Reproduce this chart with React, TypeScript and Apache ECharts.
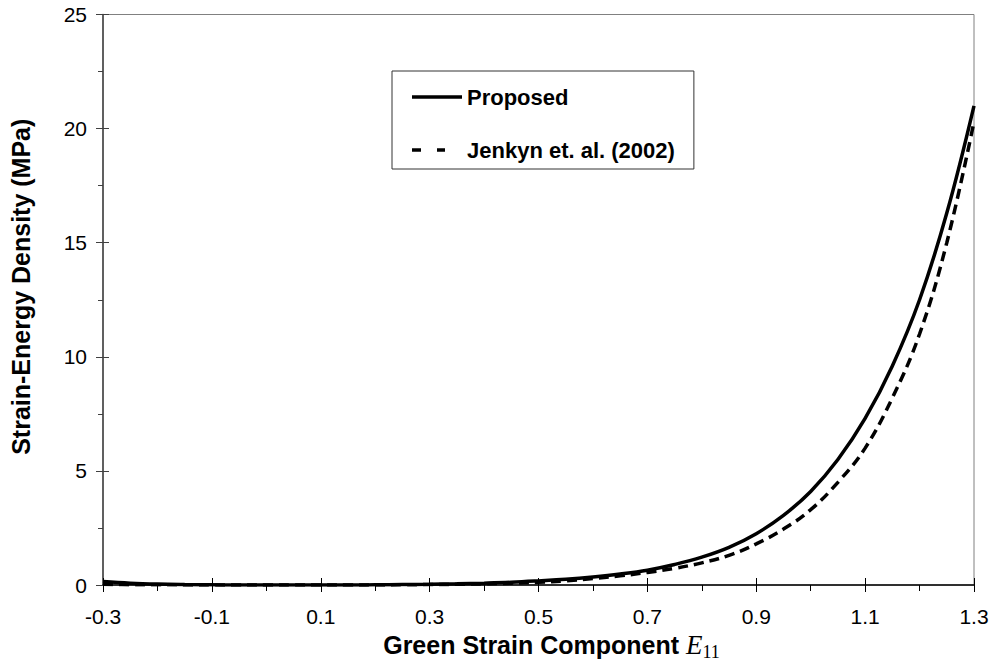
import React, { useEffect, useRef } from "react";
import * as echarts from "echarts";

const strainX = [-0.3, -0.25, -0.2, -0.15, -0.1, -0.05, 0, 0.05, 0.1, 0.15, 0.2, 0.25, 0.3, 0.35, 0.4, 0.45, 0.5, 0.55, 0.6, 0.65, 0.7, 0.75, 0.8, 0.85, 0.9, 0.95, 1.0, 1.05, 1.1, 1.15, 1.2, 1.25, 1.3];
const proposed = [0.15, 0.08, 0.04, 0.02, 0.01, 0.0, 0.0, 0.0, 0.0, 0.0, 0.01, 0.02, 0.03, 0.05, 0.08, 0.12, 0.18, 0.25, 0.35, 0.48, 0.65, 0.9, 1.22, 1.65, 2.25, 3.05, 4.1, 5.5, 7.3, 9.6, 12.5, 16.3, 21.0];
const jenkyn = [0.03, 0.015, 0.01, 0.005, 0.0, 0.0, 0.0, 0.0, 0.0, 0.0, 0.0, 0.01, 0.02, 0.03, 0.05, 0.08, 0.12, 0.18, 0.28, 0.4, 0.55, 0.73, 0.97, 1.3, 1.8, 2.45, 3.3, 4.5, 6.0, 8.2, 11.0, 15.0, 20.3];
const seriesNames = ["Proposed", "Jenkyn et. al. (2002)"];
const xTitle = "Green Strain Component ";
const yTitle = "Strain-Energy Density (MPa)";

const FONT = "'Liberation Sans', Arial, sans-serif";
const SERIF = "'Liberation Serif', 'Times New Roman', serif";

// legend icons (50 x 14 box, stroke band in the middle)
const ICON_SOLID = "path://M0,0L50,0Z M0,14L50,14Z M0,5.25H50V8.75H0Z";
const ICON_DASH = "path://M0,0L50,0Z M0,14L50,14Z M0,5.25H9V8.75H0Z M25,5.25H33V8.75H25Z";

export default function App() {
  const ref = useRef<HTMLDivElement>(null);
  useEffect(() => {
    if (!ref.current) return;
    const chart = echarts.init(ref.current, null, { renderer: "svg" });
    const fmt = (v: number) => String(Math.round(v * 10) / 10);
    chart.setOption({
      animation: false,
      backgroundColor: "#ffffff",
      grid: {
        left: 102,
        right: 21,
        top: 14.5,
        bottom: 83,
        show: true,
        borderColor: "#808080",
        borderWidth: 1,
        backgroundColor: "transparent",
      },
      legend: {
        left: 392,
        top: 71,
        orient: "vertical",
        backgroundColor: "#ffffff",
        borderColor: "#333333",
        borderWidth: 1,
        borderRadius: 0,
        padding: [15, 19, 8, 20],
        itemGap: 31,
        itemWidth: 50,
        itemHeight: 14,
        textStyle: { fontFamily: FONT, fontWeight: "bold", fontSize: 22, color: "#000", lineHeight: 22 },
        data: [
          { name: seriesNames[0], icon: ICON_SOLID, itemStyle: { color: "#000" } },
          { name: seriesNames[1], icon: ICON_DASH, itemStyle: { color: "#000" } },
        ],
      },
      xAxis: [
        {
          type: "value",
          position: "bottom",
          min: -0.3,
          max: 1.3,
          interval: 0.2,
          splitLine: { show: false },
          axisLine: { show: true, onZero: false, lineStyle: { color: "#000", width: 1.5 } },
          axisTick: { show: true, inside: false, length: 7, lineStyle: { color: "#000", width: 1 } },
          minorTick: { show: true, splitNumber: 2, length: 6, lineStyle: { color: "#000", width: 1 } },
          axisLabel: { fontFamily: FONT, fontSize: 21, color: "#000", margin: 21, formatter: fmt },
          name: `{b|${xTitle}}{e|E}{s|11}`,
          nameLocation: "middle",
          nameGap: 43,
          nameTextStyle: {
            padding: [0, 0, 0, 26],
            rich: {
              b: { fontFamily: FONT, fontWeight: "bold", fontSize: 25, color: "#000" },
              e: { fontFamily: SERIF, fontStyle: "italic", fontSize: 27, color: "#000" },
              s: { fontFamily: SERIF, fontSize: 18, color: "#000", padding: [14, 0, 0, 0] },
            },
          },
        },
        {
          type: "value",
          position: "bottom",
          min: -0.3,
          max: 1.3,
          interval: 0.2,
          splitLine: { show: false },
          axisLine: { show: false, onZero: false },
          axisTick: { show: true, inside: true, length: 7, lineStyle: { color: "#000", width: 1 } },
          axisLabel: { show: false },
        },
      ],
      yAxis: [
        {
          type: "value",
          position: "left",
          min: 0,
          max: 25,
          interval: 5,
          splitLine: { show: false },
          axisLine: { show: true, onZero: false, lineStyle: { color: "#404040", width: 1.5 } },
          axisTick: { show: true, inside: false, length: 7, lineStyle: { color: "#404040", width: 1 } },
          minorTick: { show: true, splitNumber: 2, length: 5, lineStyle: { color: "#404040", width: 1 } },
          axisLabel: { fontFamily: FONT, fontSize: 21, color: "#000", margin: 16 },
          name: yTitle,
          nameLocation: "middle",
          nameGap: 70,
          nameRotate: 90,
          nameTextStyle: { fontFamily: FONT, fontWeight: "bold", fontSize: 25, color: "#000", padding: [0, 0, 0, 26] },
        },
        {
          type: "value",
          position: "left",
          min: 0,
          max: 25,
          interval: 5,
          splitLine: { show: false },
          axisLine: { show: false, onZero: false },
          axisTick: { show: true, inside: true, length: 6, lineStyle: { color: "#404040", width: 1 } },
          axisLabel: { show: false },
        },
      ],
      series: [
        {
          name: seriesNames[0],
          type: "line",
          xAxisIndex: 0,
          yAxisIndex: 0,
          data: strainX.map((x, i) => [x, proposed[i]]),
          smooth: 0.4,
          showSymbol: false,
          symbol: "none",
          lineStyle: { color: "#000", width: 3.5, type: "solid" },
          itemStyle: { color: "#000" },
        },
        {
          name: seriesNames[1],
          type: "line",
          xAxisIndex: 0,
          yAxisIndex: 0,
          data: strainX.map((x, i) => [x, jenkyn[i]]),
          smooth: 0.4,
          showSymbol: false,
          symbol: "none",
          lineStyle: { color: "#000", width: 3.5, type: [10, 6] },
          itemStyle: { color: "#000" },
        },
      ],
    });
    return () => chart.dispose();
  }, []);
  return <div ref={ref} style={{ width: 995, height: 668, position: "absolute", left: 0, top: 0 }} />;
}
